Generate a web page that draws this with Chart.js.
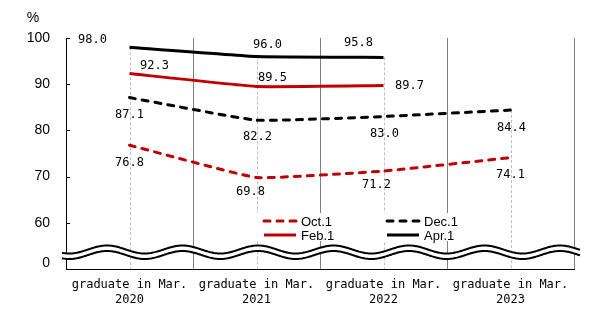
<!DOCTYPE html>
<html>
<head>
<meta charset="utf-8">
<script src="https://cdn.jsdelivr.net/npm/chart.js@4.4.0/dist/chart.umd.min.js"></script>
<style>
html,body{margin:0;padding:0;background:#fff;}
#wrap{width:601px;height:336px;position:relative;}
</style>
</head>
<body>
<div id="wrap"><canvas id="c" width="601" height="336"></canvas></div>
<script>
// ---- data ----
const categories = [["graduate in Mar.","2020"],["graduate in Mar.","2021"],["graduate in Mar.","2022"],["graduate in Mar.","2023"]];
const seriesNames = ["Oct.1","Dec.1","Feb.1","Apr.1"];
const oct1 = [76.8, 69.8, 71.2, 74.1];
const dec1 = [87.1, 82.2, 83.0, 84.4];
const feb1 = [92.3, 89.5, 89.7, null];
const apr1 = [98.0, 96.0, 95.8, null];
const yTickValues = [51.3, 60, 70, 80, 90, 100];
const yTickLabels = ["0", "60", "70", "80", "90", "100"];
const yUnit = "%";

// label offsets (style) per series, per point [dx, dy]
const labelOffsets = [
  [[0,18],[-6,14],[-7,14],[0,17]],
  [[0,17],[1,17],[1,17],[1,18]],
  [[25,-8],[16,-9],[26,0],null],
  [[-37,-7],[11,-12],[-25,-15],null]
];

const RED = "#C00000";
const BLACK = "#000000";
const monoFont = "'DejaVu Sans Mono', 'Liberation Mono', monospace";
const sansFont = "'Liberation Sans', Arial, sans-serif";

const dropLines = {
  id: 'dropLines',
  beforeDatasetsDraw(chart) {
    const ctx = chart.ctx, x = chart.scales.x, y = chart.scales.y, area = chart.chartArea;
    ctx.save();
    ctx.strokeStyle = '#BFBFBF';
    ctx.lineWidth = 1;
    ctx.setLineDash([3,2]);
    categories.forEach((c, i) => {
      let top = Infinity;
      chart.data.datasets.forEach(ds => {
        const v = ds.data[i];
        if (v !== null && v !== undefined) top = Math.min(top, y.getPixelForValue(v));
      });
      const px = Math.round(x.getPixelForValue(i)) + 0.5;
      ctx.beginPath(); ctx.moveTo(px, top); ctx.lineTo(px, area.bottom); ctx.stroke();
    });
    ctx.restore();
    // inward ticks on y axis
    ctx.save();
    ctx.strokeStyle = '#000'; ctx.lineWidth = 1;
    yTickValues.slice(1).forEach(v => {
      const py = Math.round(y.getPixelForValue(v)) + 0.5;
      ctx.beginPath(); ctx.moveTo(area.left, py); ctx.lineTo(area.left + 4, py); ctx.stroke();
    });
    ctx.restore();
  }
};

const dataLabels = {
  id: 'dataLabels',
  afterDatasetsDraw(chart) {
    const ctx = chart.ctx, x = chart.scales.x, y = chart.scales.y, area = chart.chartArea;
    // wave break
    const topC = area.bottom - 19.5, botC = area.bottom - 14, A = 4, P = 75.5, x0 = 107;
    const x1 = area.left - 4, x2 = area.right + 6;
    const wave = (xx, c) => c - A * Math.cos(2 * Math.PI * (xx - x0) / P);
    ctx.save();
    ctx.beginPath();
    for (let xx = x1; xx <= x2; xx++) { const yy = wave(xx, topC); xx === x1 ? ctx.moveTo(xx, yy) : ctx.lineTo(xx, yy); }
    for (let xx = x2; xx >= x1; xx--) ctx.lineTo(xx, wave(xx, botC));
    ctx.closePath();
    ctx.fillStyle = '#fff'; ctx.fill();
    ctx.strokeStyle = '#000'; ctx.lineWidth = 2;
    [topC, botC].forEach(c => {
      ctx.beginPath();
      for (let xx = x1; xx <= x2; xx++) { const yy = wave(xx, c); xx === x1 ? ctx.moveTo(xx, yy) : ctx.lineTo(xx, yy); }
      ctx.stroke();
    });
    ctx.restore();

    // value labels
    ctx.save();
    ctx.font = "12px " + monoFont;
    ctx.fillStyle = '#000';
    ctx.textAlign = 'center'; ctx.textBaseline = 'middle';
    chart.data.datasets.forEach((ds, di) => {
      ds.data.forEach((v, i) => {
        if (v === null || v === undefined) return;
        const off = labelOffsets[di][i] || [0,0];
        ctx.fillText(v.toFixed(1), x.getPixelForValue(i) + off[0], y.getPixelForValue(v) + off[1]);
      });
    });
    ctx.restore();

    // unit label
    ctx.save();
    ctx.font = "14px " + sansFont;
    ctx.fillStyle = '#000'; ctx.textAlign = 'center'; ctx.textBaseline = 'middle';
    ctx.fillText(yUnit, 33, 18);
    ctx.restore();

    // legend
    ctx.save();
    ctx.fillStyle = '#fff';
    ctx.fillRect(200, 213, 260, 28);
    const items = [
      {ds:0, sx:263, y:221}, {ds:1, sx:386, y:221},
      {ds:2, sx:263, y:235}, {ds:3, sx:386, y:235}
    ];
    items.forEach(it => {
      const ds = chart.data.datasets[it.ds];
      ctx.strokeStyle = ds.borderColor; ctx.lineWidth = 3;
      ctx.lineCap = ds.borderDash && ds.borderDash.length ? 'round' : 'butt';
      ctx.setLineDash(ds.borderDash || []);
      ctx.beginPath(); ctx.moveTo(it.sx + 1, it.y); ctx.lineTo(it.sx + 33, it.y); ctx.stroke();
      ctx.setLineDash([]);
      ctx.font = "13px " + sansFont; ctx.fillStyle = '#000';
      ctx.textAlign = 'left'; ctx.textBaseline = 'middle';
      ctx.fillText(ds.label, it.sx + 38, it.y + 1);
    });
    ctx.restore();
  }
};

const mk = (label, data, color, dashed) => ({
  label, data, borderColor: color, backgroundColor: color, borderWidth: 3,
  borderDash: dashed ? [6,7] : [], borderCapStyle: dashed ? 'round' : 'butt',
  pointRadius: 0, pointHoverRadius: 0, tension: 0.1, spanGaps: false, fill: false
});

new Chart(document.getElementById('c'), {
  type: 'line',
  data: {
    labels: categories,
    datasets: [
      mk(seriesNames[0], oct1, RED, true),
      mk(seriesNames[1], dec1, BLACK, true),
      mk(seriesNames[2], feb1, RED, false),
      mk(seriesNames[3], apr1, BLACK, false)
    ]
  },
  options: {
    responsive: false,
    animation: false,
    events: [],
    layout: { padding: { left: 0, right: 27, top: 38, bottom: 0 } },
    plugins: { legend: { display: false }, tooltip: { enabled: false }, title: { display: false } },
    scales: {
      x: {
        type: 'category',
        offset: true,
        grid: { offset: true, color: '#808080', lineWidth: 1, drawTicks: false },
        border: { display: true, color: '#000', width: 1 },
        ticks: { color: '#000', font: { family: monoFont, size: 12, lineHeight: 1.25 }, padding: 8, maxRotation: 0, autoSkip: false },
        afterFit(s) { s.height = 67; }
      },
      y: {
        min: 50, max: 100,
        grid: { display: false, drawTicks: false },
        border: { display: true, color: '#000', width: 1 },
        afterBuildTicks(s) { s.ticks = yTickValues.map(v => ({ value: v })); },
        ticks: {
          color: '#000', font: { family: sansFont, size: 14 }, padding: 16,
          callback: (v) => { const i = yTickValues.indexOf(v); return i >= 0 ? yTickLabels[i] : ''; }
        },
        afterFit(s) { s.width = 66; }
      }
    }
  },
  plugins: [dropLines, dataLabels]
});
</script>
</body>
</html>
